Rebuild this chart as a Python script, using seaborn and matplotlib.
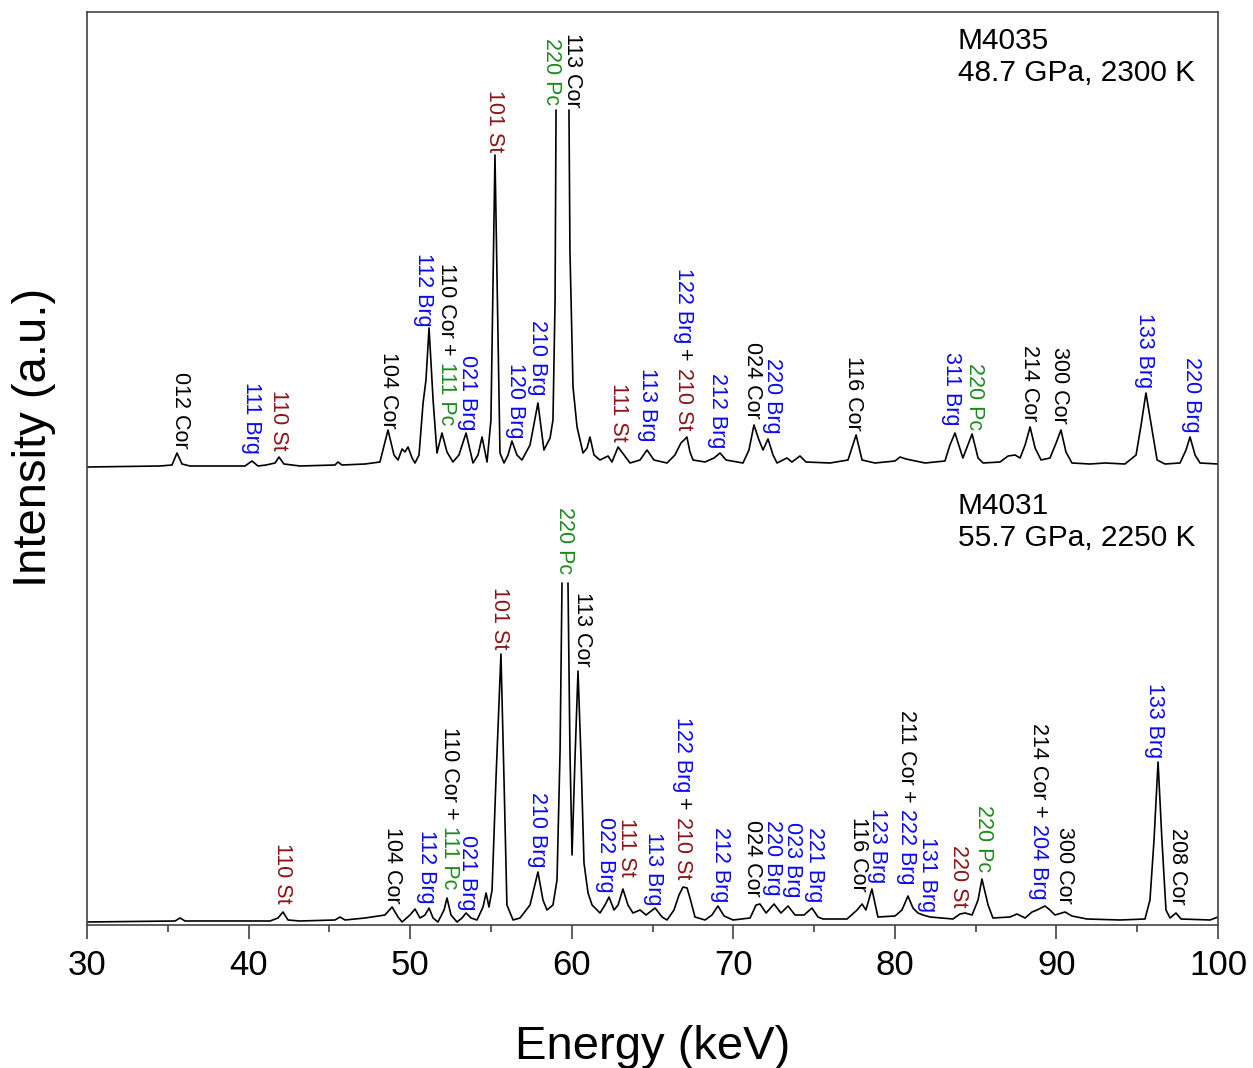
import numpy as np
import pandas as pd
import matplotlib
matplotlib.use("Agg")
import matplotlib.pyplot as plt
import seaborn as sns

# ---------------- data ----------------
# Upper spectrum M4035 : energy (keV) and intensity above its own baseline (a.u.)
# None marks where the very strong peaks run off (truncated) in the original figure
top_energy = [30.00, 34.52, 35.26, 35.57, 35.88, 36.37, 39.78, 40.21, 40.58, 41.08, 41.64, 41.88,
              42.19, 43.18, 45.35, 45.53, 45.78, 47.21, 48.13, 48.63, 49.00, 49.25, 49.50, 49.68,
              49.87, 50.12, 50.30, 50.55, 50.80, 50.98, 51.17, 51.42, 51.66, 51.97, 52.28, 52.65,
              53.02, 53.46, 53.89, 54.20, 54.45, 54.76, 55.00, 55.25, 55.56, 55.81, 56.06, 56.30,
              56.61, 56.92, 57.42, 57.91, 58.28, 58.66, 58.84, 58.97, 59.03, None, 59.83, 59.89,
              60.08, 60.33, 60.70, 60.95, 61.13, 61.38, 61.75, 62.25, 62.49, 62.87, 63.24, 63.61,
              64.23, 64.66, 65.09, 65.90, 66.39, 66.76, 66.95, 67.13, 67.32, 67.51, 68.25, 68.81,
              69.18, 69.55, 70.60, 70.97, 71.28, 71.59, 71.84, 72.15, 72.46, 72.71, 73.32, 73.63,
              74.13, 74.50, 75.99, 77.10, 77.60, 77.97, 78.77, 80.01, 80.32, 80.69, 81.87, 83.10,
              83.41, 83.72, 84.21, 84.78, 85.15, 85.46, 86.51, 87.01, 87.44, 87.75, 88.06, 88.37,
              88.68, 89.05, 89.60, 89.98, 90.28, 90.59, 90.96, 92.08, 93.01, 94.24, 94.93, 95.24,
              95.54, 95.92, 96.23, 96.72, 97.65, 98.02, 98.27, 98.58, 98.89, 100.00]
top_intensity = [0, 1, 2, 14, 3, 1, 1, 6, 1, 2, 4, 10,
                 3, 1, 2, 5, 2, 3, 5, 37, 12, 7, 18, 15,
                 20, 9, 4, 12, 64, 87, 139, 67, 14, 34, 15, 5,
                 12, 34, 4, 12, 30, 5, 47, 312, 14, 4, 12, 26,
                 12, 7, 22, 64, 17, 29, 47, 167, 357, None, 357, 217,
                 80, 40, 14, 19, 30, 12, 7, 11, 5, 20, 12, 4,
                 7, 17, 7, 4, 12, 24, 27, 30, 15, 7, 5, 9,
                 14, 7, 4, 17, 42, 27, 17, 28, 12, 4, 9, 5,
                 11, 5, 4, 7, 32, 7, 4, 6, 10, 8, 4, 6,
                 22, 34, 9, 33, 9, 4, 5, 11, 12, 9, 22, 40,
                 19, 7, 9, 24, 37, 15, 4, 3, 4, 3, 12, 42,
                 74, 37, 7, 3, 4, 17, 30, 12, 4, 3]
top_offset = 458

# Lower spectrum M4031
bot_energy = [30.00, 35.45, 35.76, 36.07, 41.33, 41.82, 42.13, 42.44, 43.18, 45.35, 45.66, 45.97,
              47.21, 48.44, 48.88, 49.25, 49.50, 49.99, 50.30, 50.61, 50.92, 51.17, 51.42, 51.72,
              52.10, 52.28, 52.53, 52.90, 53.21, 53.46, 53.77, 54.14, 54.51, 54.70, 54.88, 55.07,
              55.31, 55.62, 55.81, 55.99, 56.37, 56.80, 57.42, 57.91, 58.22, 58.47, 58.84, 59.09,
              59.28, 59.40, None, 59.77, 59.89, 60.02, 60.20, 60.39, 60.58, 60.76, 61.01, 61.26,
              61.75, 62.06, 62.31, 62.62, 62.87, 63.17, 63.48, 63.79, 64.23, 64.60, 65.16, 65.59,
              65.90, 66.33, 66.64, 66.89, 67.14, 67.32, 67.63, 68.25, 68.68, 69.05, 69.43, 69.99,
              71.04, 71.41, 71.65, 72.03, 72.52, 72.95, 73.39, 73.82, 74.38, 74.87, 75.24, 75.55,
              77.04, 77.66, 77.97, 78.21, 78.58, 78.95, 80.01, 80.44, 80.81, 81.12, 81.43, 81.74,
              82.18, 83.60, 84.03, 84.35, 84.78, 85.15, 85.39, 85.77, 86.07, 87.13, 87.56, 88.06,
              88.49, 88.80, 89.29, 89.60, 89.91, 90.53, 90.96, 91.89, 93.93, 95.48, 95.79, 96.04,
              96.29, 96.53, 96.78, 97.03, 97.40, 97.71, 99.51, 100.00]
bot_intensity = [3, 4, 7, 4, 4, 7, 13, 5, 4, 5, 8, 5,
                 7, 10, 18, 8, 3, 10, 16, 7, 10, 17, 7, 3,
                 15, 27, 10, 3, 7, 12, 7, 5, 18, 32, 18, 35,
                 145, 271, 145, 20, 5, 7, 20, 53, 25, 15, 20, 45,
                 175, 342, None, 342, 175, 70, 165, 254, 165, 62, 32, 20,
                 12, 20, 28, 15, 20, 36, 20, 12, 15, 10, 17, 8,
                 5, 15, 30, 38, 37, 27, 8, 5, 10, 19, 9, 5,
                 7, 20, 21, 12, 21, 12, 19, 10, 10, 17, 8, 6,
                 6, 15, 21, 15, 36, 8, 9, 15, 29, 17, 12, 10,
                 8, 6, 11, 12, 10, 25, 46, 20, 7, 8, 11, 7,
                 13, 15, 19, 15, 10, 13, 9, 6, 5, 6, 25, 85,
                 163, 85, 15, 7, 12, 6, 5, 8]
bot_offset = 0

# Peak labels: text, energy position (keV), top of label (a.u.)
top_labels = ["012 Cor", "111 Brg", "110 St", "104 Cor", "112 Brg", "110 Cor + 111 Pc", "021 Brg",
              "101 St", "120 Brg", "210 Brg", "220 Pc", "113 Cor", "111 St", "113 Brg",
              "122 Brg + 210 St", "212 Brg", "024 Cor", "220 Brg", "116 Cor", "311 Brg", "220 Pc",
              "214 Cor", "300 Cor", "133 Brg", "220 Brg"]
top_label_e = [35.76, 40.21, 41.88, 48.69, 50.80, 52.22, 53.58, 55.25, 56.49, 57.91, 58.72, 60.02,
               62.87, 64.66, 66.89, 69.05, 71.22, 72.40, 77.47, 83.48, 84.96, 88.36, 90.22, 95.48,
               98.33]
top_label_y = [553, 543, 535, 573, 672, 662, 570, 835, 562, 605, 887, 892, 542, 557, 657, 552, 583,
               567, 569, 573, 562, 580, 578, 612, 568]

bot_labels = ["110 St", "104 Cor", "112 Brg", "110 Cor + 111 Pc", "021 Brg", "101 St", "210 Brg",
              "220 Pc", "113 Cor", "022 Brg", "111 St", "113 Brg", "122 Brg + 210 St", "212 Brg",
              "024 Cor", "220 Brg", "023 Brg", "221 Brg", "116 Cor", "123 Brg", "211 Cor + 222 Brg",
              "131 Brg", "220 St", "220 Pc", "214 Cor + 204 Brg", "300 Cor", "133 Brg", "208 Cor"]
bot_label_e = [42.07, 48.88, 51.04, 52.41, 53.58, 55.56, 57.91, 59.58, 60.64, 62.08, 63.40, 65.09,
               66.83, 69.18, 71.22, 72.45, 73.68, 75.00, 77.72, 78.90, 80.75, 81.99, 83.91, 85.46,
               88.86, 90.53, 96.10, 97.52]
bot_label_y = [82, 98, 95, 198, 90, 338, 133, 418, 333, 108, 107, 93, 208, 98, 105, 105, 103, 98,
               108, 117, 215, 88, 80, 120, 202, 98, 242, 97]

sample_names = ["M4035\n48.7 GPa, 2300 K", "M4031\n55.7 GPa, 2250 K"]
sample_text_e = [83.9, 83.9]
sample_text_y = [898, 433]

phase_colors = {"Cor": "black", "Brg": "#0a0af0", "St": "#8c1414", "Pc": "#1f8a1f"}

# ---------------- figure ----------------
sns.set_style("ticks")
plt.rcParams["font.family"] = ["Liberation Sans", "DejaVu Sans"]
plt.rcParams["text.color"] = "black"
plt.rcParams["axes.labelcolor"] = "black"
plt.rcParams["xtick.color"] = "black"
plt.rcParams["xtick.labelcolor"] = "black"

fig = plt.figure(figsize=(12.53, 10.68), dpi=100)
ax = fig.add_axes([87 / 1253, 1 - 925 / 1068, (1218 - 87) / 1253, (925 - 12) / 1068])


def to_frame(energy, intensity, offset):
    rows, seg = [], 0
    for e, i in zip(energy, intensity):
        if e is None:
            seg += 1
            continue
        rows.append((e, i + offset, seg))
    return pd.DataFrame(rows, columns=["Energy", "Intensity", "seg"])


for en, it, off in [(top_energy, top_intensity, top_offset), (bot_energy, bot_intensity, bot_offset)]:
    df = to_frame(en, it, off)
    sns.lineplot(data=df, x="Energy", y="Intensity", units="seg", estimator=None, sort=False,
                 color="black", linewidth=1.2, ax=ax)

ax.set_xlim(30, 100)
ax.set_ylim(0, 913)
ax.set_xticks(np.arange(30, 101, 10))
ax.set_xticks(np.arange(35, 100, 10), minor=True)
ax.set_yticks([])
ax.tick_params(axis="x", which="major", direction="out", length=10, width=1.1, labelsize=25,
               pad=7, color="#333333", labelcolor="black")
ax.tick_params(axis="x", which="minor", direction="out", length=5, width=1.1, color="#333333")
for sp in ax.spines.values():
    sp.set_visible(True)
    sp.set_color("#444444")
    sp.set_linewidth(1.2)

ax.set_xlabel("Energy (keV)", fontsize=34, labelpad=31, color="black")
ax.set_ylabel("Intensity (a.u.)", fontsize=34, color="black")
ax.yaxis.set_label_coords(-0.027, 0.534)

# ---------------- multi-coloured rotated labels ----------------
fig.canvas.draw()
renderer = fig.canvas.get_renderer()
FS = 15.5


def text_width(s):
    t = ax.text(0, 0, s, fontsize=FS)
    w = t.get_window_extent(renderer).width
    t.remove()
    return w


space_w = text_width("0 0") - text_width("00")


def colored_label(label, e, y):
    parts = label.split(" + ")
    segs = []
    for k, p in enumerate(parts):
        if k > 0:
            segs.append(("+", "black"))
        segs.append((p, phase_colors[p.split()[-1]]))
    off = 0.0
    for s, c in segs:
        ax.annotate(s, xy=(e, y), xycoords="data", xytext=(0, -off), textcoords="offset pixels",
                    rotation=270, ha="center", va="top", fontsize=FS, color=c,
                    annotation_clip=False)
        off += text_width(s) + space_w


for lab, e, y in zip(top_labels, top_label_e, top_label_y):
    colored_label(lab, e, y)
for lab, e, y in zip(bot_labels, bot_label_e, bot_label_y):
    colored_label(lab, e, y)

for s, e, y in zip(sample_names, sample_text_e, sample_text_y):
    ax.text(e, y, s, fontsize=21.5, ha="left", va="top", linespacing=1.2, color="black")

fig.savefig("out.png", dpi=100)
